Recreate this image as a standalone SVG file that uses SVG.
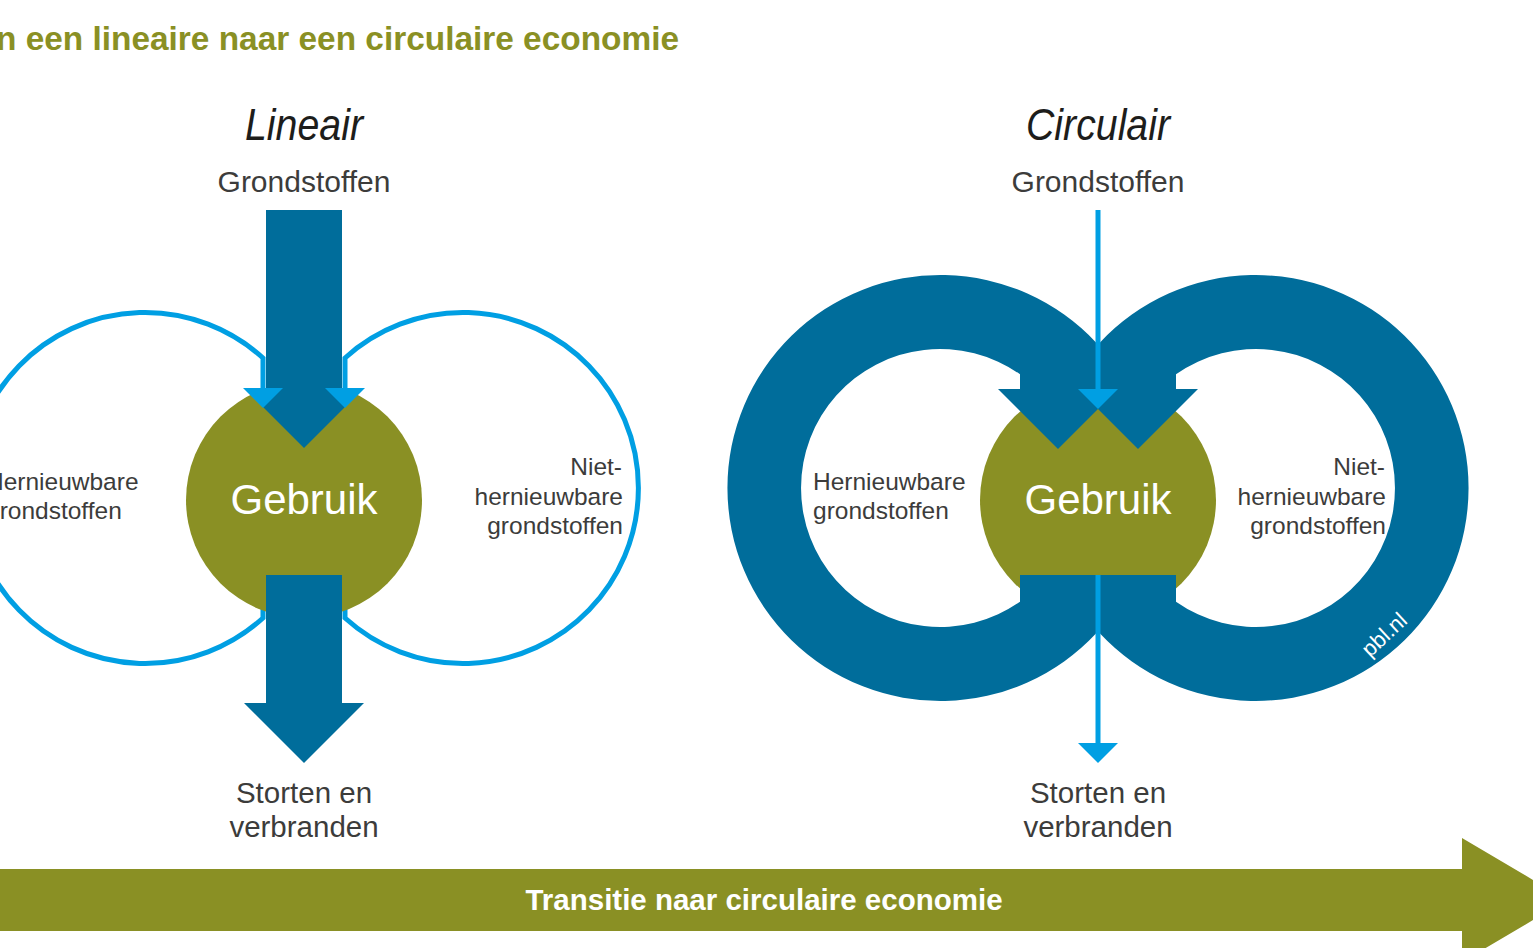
<svg xmlns="http://www.w3.org/2000/svg" width="1533" height="948" viewBox="0 0 1533 948">
<style>
.lb{fill:none;stroke:#009fe3;stroke-width:5}
.lbf{fill:#009fe3}
.db{fill:#006d9b}
.ol{fill:#8a9024}
.t{font-family:"Liberation Sans",Arial,sans-serif;fill:#3c3c3b}
.h{font-family:"Liberation Sans",Arial,sans-serif;font-style:italic;fill:#1d1d1b;font-size:44px;text-anchor:middle}
.g{font-family:"Liberation Sans",Arial,sans-serif;fill:#ffffff;font-size:42px;text-anchor:middle}
</style>
<rect width="1533" height="948" fill="#ffffff"/>
<g id="title"><text x="-43" y="50" textLength="722" lengthAdjust="spacingAndGlyphs" style="font-family:'Liberation Sans',Arial,sans-serif;font-weight:bold;font-size:33px;fill:#8a9024">Van een lineaire naar een circulaire economie</text></g>

<g id="lineair">
<text class="h" x="304" y="140" textLength="118" lengthAdjust="spacingAndGlyphs">Lineair</text>
<text class="t" x="304" y="192" font-size="30" text-anchor="middle">Grondstoffen</text>
<path class="lb" d="M263,392 L263,358 A175.5,175.5 0 1 0 263,618 L263,575"/>
<path class="lb" d="M345,392 L345,358 A175.5,175.5 0 1 1 345,618 L345,575"/>
<circle class="ol" cx="304" cy="500" r="118"/>
<path class="db" d="M266,210 H342 V388 H364 L304,448 L244,388 H266 Z"/>
<path class="db" d="M266,575 H342 V703 H364 L304,763 L244,703 H266 Z"/>
<polygon class="lbf" points="243,388 283,388 263,408"/>
<polygon class="lbf" points="325,388 365,388 345,408"/>
<text class="g" x="304" y="514">Gebruik</text>
<text class="t" font-size="24.5" x="-14" y="490">Hernieuwbare</text>
<text class="t" font-size="24.5" x="-14" y="519">grondstoffen</text>
<text class="t" font-size="24.5" x="622" y="475" text-anchor="end">Niet-</text>
<text class="t" font-size="24.5" x="623" y="505" text-anchor="end">hernieuwbare</text>
<text class="t" font-size="24.5" x="623" y="534" text-anchor="end">grondstoffen</text>
<text class="t" font-size="29.5" x="304" y="803" text-anchor="middle">Storten en</text>
<text class="t" font-size="29.5" x="304" y="837" text-anchor="middle">verbranden</text>
</g>

<g id="circulair">
<text class="h" x="1098" y="140" textLength="144" lengthAdjust="spacingAndGlyphs">Circulair</text>
<text class="t" x="1098" y="192" font-size="30" text-anchor="middle">Grondstoffen</text>
<circle class="ol" cx="1098" cy="500" r="118"/>
<path class="db" d="M1096,342.5 A213,213 0 1 0 1096,633.5 L1096,575 L1020,575 L1020,601.7 A139,139 0 1 1 1020,374.3 L1020,389 L998,389 L1058,449 L1118,389 L1096,389 Z"/>
<path class="db" d="M1100,342.5 A213,213 0 1 1 1100,633.5 L1100,575 L1176,575 L1176,601.7 A139,139 0 1 0 1176,374.3 L1176,389 L1198,389 L1138,449 L1078,389 L1100,389 Z"/>
<text class="g" x="1098" y="514">Gebruik</text>
<text class="t" font-size="24.5" x="813" y="490">Hernieuwbare</text>
<text class="t" font-size="24.5" x="813" y="519">grondstoffen</text>
<text class="t" font-size="24.5" x="1385" y="475" text-anchor="end">Niet-</text>
<text class="t" font-size="24.5" x="1386" y="505" text-anchor="end">hernieuwbare</text>
<text class="t" font-size="24.5" x="1386" y="534" text-anchor="end">grondstoffen</text>
<text class="t" font-size="29.5" x="1098" y="803" text-anchor="middle">Storten en</text>
<text class="t" font-size="29.5" x="1098" y="837" text-anchor="middle">verbranden</text>
<text transform="translate(1370,658) rotate(-43)" style="font-family:'Liberation Sans',Arial,sans-serif;font-size:22px;fill:#ffffff">pbl.nl</text>
</g>

<g id="connectors">
<line x1="1098" y1="210" x2="1098" y2="392" stroke="#009fe3" stroke-width="5"/>
<polygon class="lbf" points="1078,389 1118,389 1098,409"/>
<line x1="1098" y1="575" x2="1098" y2="746" stroke="#009fe3" stroke-width="5"/>
<polygon class="lbf" points="1078,743 1118,743 1098,763"/>
</g>

<g id="transitie">
<polygon class="ol" points="0,869 1462,869 1462,838 1567,900 1462,962 1462,931 0,931"/>
<text x="764" y="910" text-anchor="middle" style="font-family:'Liberation Sans',Arial,sans-serif;font-weight:bold;font-size:29.5px;fill:#ffffff">Transitie naar circulaire economie</text>
</g>
</svg>
